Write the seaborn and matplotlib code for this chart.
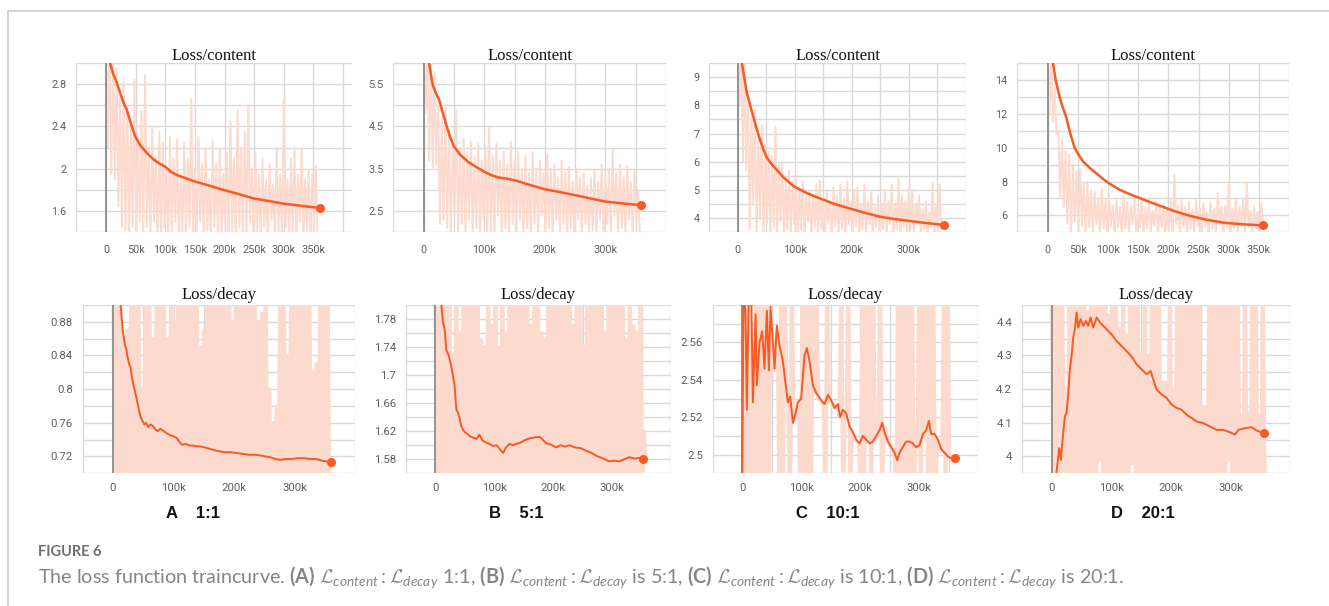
import numpy as np
import matplotlib
matplotlib.use("Agg")
import matplotlib.pyplot as plt
from matplotlib.lines import Line2D
import seaborn as sns

# ---- data (steps in thousands) ----
RAW_STEP = 3  # spacing of raw log points, k steps

# Loss/content, A 1:1
a_con_x = [4, 7, 12, 18.5, 25, 30, 35, 42, 49, 58, 69, 80, 90, 100, 110, 120, 135, 150, 175, 198, 225, 249, 275, 300, 330, 361]
a_con_y = [3.15, 3.0, 2.9, 2.81, 2.70, 2.62, 2.56, 2.43, 2.31, 2.22, 2.15, 2.09, 2.05, 2.02, 1.97, 1.94, 1.91, 1.88, 1.84, 1.80, 1.76, 1.72, 1.695, 1.67, 1.65, 1.63]
a_con_hi = [3.3, 3.2, 3.1, 2.95, 2.7, 2.82, 2.6, 2.45, 2.84, 2.3, 2.55, 2.88, 2.2, 2.4, 2.1, 2.35, 2.25, 2.0, 2.3, 2.1,
            2.28, 1.95, 2.25, 2.1, 2.66, 2.0, 2.3, 2.05, 2.2, 1.9, 2.27, 2.05, 2.2, 1.95, 2.15, 2.45, 2.1, 2.56, 2.2, 2.35,
            2.6, 2.0, 2.15, 1.95, 2.1, 1.9, 2.05, 1.85, 2.2, 1.95, 2.65, 1.9, 2.1, 2.2, 1.95, 2.2, 1.9, 2.0, 1.95, 2.03]
a_con_lo = [2.2, 1.95, 1.9, 1.65, 1.45, 1.42, 1.3, 1.45, 1.3, 1.5, 1.35, 1.45, 1.3, 1.5, 1.35, 1.3, 1.45, 1.3, 1.35, 1.5,
            1.3, 1.4, 1.3, 1.45, 1.3, 1.35, 1.5, 1.3, 1.42, 1.3, 1.45, 1.3, 1.35, 1.48, 1.3, 1.4, 1.3, 1.45, 1.3, 1.35,
            1.5, 1.3, 1.4, 1.3, 1.45, 1.3, 1.52, 1.3, 1.4, 1.3, 1.45, 1.3, 1.38, 1.3, 1.5, 1.3, 1.42, 1.3, 1.4, 1.3]

# Loss/content, B 5:1
b_con_x = [5, 9, 15, 20, 26, 31, 37, 43, 50, 60, 73, 85, 100, 112, 122, 140, 155, 175, 199, 225, 249, 275, 298, 330, 359]
b_con_y = [6.3, 6.0, 5.48, 5.3, 5.12, 4.85, 4.56, 4.28, 4.03, 3.84, 3.67, 3.56, 3.43, 3.35, 3.30, 3.26, 3.21, 3.12, 3.02, 2.95, 2.88, 2.80, 2.73, 2.68, 2.64]
b_con_hi = [6.5, 6.3, 6.2, 5.8, 5.1, 4.7, 4.95, 4.4, 4.1, 4.9, 4.0, 4.2, 3.9, 4.15, 3.8, 4.1, 3.7, 4.0, 4.5, 3.8,
            4.1, 3.7, 3.9, 3.6, 4.15, 3.7, 3.9, 3.5, 3.8, 3.4, 3.9, 3.5, 3.7, 3.4, 3.85, 3.5, 3.6, 3.3, 3.7, 3.4,
            3.55, 3.2, 3.5, 3.3, 3.4, 3.1, 3.3, 3.5, 3.2, 3.6, 3.3, 3.5, 3.95, 3.4, 3.6, 3.3, 3.55, 3.2, 3.45, 3.0]
b_con_lo = [4.8, 3.7, 3.5, 3.6, 2.2, 2.3, 2.1, 1.9, 2.4, 1.9, 2.2, 1.9, 2.3, 1.9, 2.1, 1.9, 2.3, 1.9, 2.0, 1.9,
            2.4, 1.9, 2.1, 1.9, 2.2, 1.9, 2.3, 1.9, 2.1, 1.9, 2.2, 1.9, 2.4, 1.9, 2.1, 1.9, 2.3, 1.9, 2.2, 1.9,
            2.1, 1.9, 2.3, 1.9, 2.2, 1.9, 2.05, 1.9, 2.3, 1.9, 2.2, 1.9, 2.4, 1.9, 2.1, 1.9, 2.3, 1.9, 2.2, 1.9]

# Loss/content, C 10:1
c_con_x = [4, 7, 12, 16, 22, 27, 33, 39, 45, 51, 60, 68, 80, 98, 120, 144, 170, 197, 225, 250, 275, 302, 330, 361]
c_con_y = [9.9, 9.5, 8.9, 8.43, 7.98, 7.61, 7.18, 6.78, 6.43, 6.14, 5.9, 5.72, 5.45, 5.13, 4.9, 4.70, 4.5, 4.34, 4.18, 4.05, 3.97, 3.90, 3.83, 3.76]
c_con_hi = [10.0, 10.0, 9.8, 8.0, 7.6, 7.8, 6.9, 7.3, 6.6, 6.4, 6.2, 7.25, 5.9, 6.0, 5.5, 5.7, 5.3, 5.5, 5.1, 5.3,
            4.9, 5.0, 4.8, 5.2, 5.35, 4.7, 5.0, 4.6, 5.1, 4.8, 5.2, 4.7, 5.3, 4.6, 5.0, 5.1, 4.5, 5.2, 4.6, 4.9,
            4.4, 4.8, 4.5, 5.0, 4.6, 5.2, 4.5, 5.4, 4.8, 4.6, 5.1, 5.0, 4.5, 4.8, 4.3, 4.6, 4.2, 5.25, 4.4, 5.2]
c_con_lo = [8.0, 6.0, 5.7, 3.6, 4.5, 3.3, 4.0, 3.3, 3.8, 3.3, 3.7, 3.3, 3.9, 3.3, 3.6, 3.3, 3.8, 3.3, 3.6, 3.3,
            3.9, 3.3, 3.7, 3.3, 3.6, 3.3, 3.8, 3.3, 3.7, 3.3, 3.6, 3.3, 3.8, 3.3, 3.7, 3.3, 3.6, 3.3, 3.8, 3.3,
            3.7, 3.3, 3.6, 3.3, 3.8, 3.3, 3.6, 3.3, 3.7, 3.3, 3.6, 3.3, 3.8, 3.3, 3.6, 3.3, 3.7, 3.3, 3.6, 3.3]

# Loss/content, D 20:1
d_con_x = [5, 9, 14, 20, 25, 31, 38, 45, 52, 59, 70, 81, 92, 103, 120, 142, 165, 186, 210, 236, 262, 291, 320, 356]
d_con_y = [15.8, 15.0, 13.9, 13.0, 12.4, 11.8, 10.8, 9.98, 9.55, 9.18, 8.8, 8.48, 8.15, 7.87, 7.5, 7.17, 6.85, 6.57, 6.25, 5.97, 5.75, 5.57, 5.48, 5.41]
d_con_hi = [16.0, 15.5, 13.5, 11.0, 10.5, 9.8, 9.6, 9.0, 8.6, 8.7, 7.9, 8.0, 7.5, 7.4, 7.0, 7.6, 6.9, 7.2, 6.6, 7.0,
            6.5, 7.1, 6.8, 6.6, 7.0, 6.4, 6.9, 6.5, 7.0, 6.3, 6.8, 6.6, 6.7, 6.4, 6.9, 8.4, 6.6, 7.0, 6.5, 6.8,
            6.3, 6.9, 6.4, 6.7, 6.2, 6.8, 6.4, 7.3, 6.5, 6.6, 7.9, 6.4, 7.0, 6.5, 7.0, 7.9, 6.3, 6.5, 6.2, 6.7]
d_con_lo = [12.0, 11.5, 10.8, 7.0, 6.5, 5.5, 4.8, 5.6, 4.8, 5.4, 4.8, 5.3, 4.8, 5.5, 4.8, 5.2, 4.8, 5.4, 4.8, 5.3,
            4.8, 5.2, 4.8, 5.5, 4.8, 5.3, 4.8, 5.2, 4.8, 5.4, 4.8, 5.3, 4.8, 5.2, 4.8, 5.5, 4.8, 5.3, 4.8, 5.2,
            4.8, 5.4, 4.8, 5.3, 4.8, 5.2, 4.8, 5.5, 4.8, 5.3, 4.8, 5.2, 4.8, 5.4, 4.8, 5.3, 4.8, 5.2, 4.8, 5.3]

# Loss/decay, A 1:1
a_dec_x = [12, 16, 20, 22, 24, 27, 29, 31, 34, 37, 40, 42, 45, 48, 52, 55, 58, 62, 66, 70, 74, 78, 82, 86, 90, 95, 100, 105, 110, 114,
           120, 126, 132, 138, 144, 150, 160, 170, 177, 185, 195, 205, 215, 225, 235, 245, 252, 260, 268, 276, 285, 295, 305, 315, 325, 335, 345, 352, 359]
a_dec_y = [0.905, 0.87, 0.851, 0.848, 0.838, 0.829, 0.826, 0.815, 0.804, 0.795, 0.785, 0.778, 0.768, 0.763, 0.758, 0.760, 0.755, 0.758, 0.756, 0.752,
           0.750, 0.753, 0.751, 0.749, 0.747, 0.745, 0.744, 0.742, 0.737, 0.734, 0.735, 0.733, 0.733, 0.732, 0.732, 0.731, 0.729, 0.727, 0.726, 0.725,
           0.725, 0.724, 0.723, 0.722, 0.722, 0.721, 0.720, 0.719, 0.717, 0.716, 0.717, 0.717, 0.718, 0.718, 0.717, 0.717, 0.715, 0.714, 0.714]
a_dec_hi = [0.95, 0.95, 0.95, 0.86, 0.87, 0.95, 0.95, 0.95, 0.80, 0.95, 0.95, 0.86, 0.95, 0.95, 0.95, 0.86, 0.95, 0.88, 0.95, 0.95,
            0.95, 0.95, 0.95, 0.95, 0.85, 0.87, 0.95, 0.95, 0.95, 0.95, 0.95, 0.95, 0.95, 0.88, 0.95, 0.95, 0.95, 0.95, 0.95, 0.95,
            0.88, 0.89, 0.95, 0.80, 0.76, 0.78, 0.95, 0.95, 0.84, 0.95, 0.95, 0.95, 0.95, 0.95, 0.95, 0.82, 0.83, 0.95, 0.95, 0.95]
a_dec_lo = [0.66, 0.67, 0.65, 0.66, 0.66, 0.67, 0.65, 0.66, 0.66, 0.67, 0.65, 0.66, 0.66, 0.67, 0.65, 0.66, 0.66, 0.67, 0.65, 0.66,
            0.66, 0.67, 0.65, 0.66, 0.66, 0.67, 0.65, 0.66, 0.66, 0.67, 0.65, 0.66, 0.66, 0.67, 0.65, 0.66, 0.66, 0.67, 0.65, 0.66,
            0.66, 0.67, 0.65, 0.66, 0.66, 0.67, 0.65, 0.66, 0.66, 0.67, 0.65, 0.66, 0.66, 0.67, 0.65, 0.66, 0.66, 0.67, 0.65, 0.66]

# Loss/decay, B 5:1
b_dec_x = [10, 13, 16, 19, 23, 27, 30, 33, 35, 36, 38, 41, 44, 47, 50, 55, 60, 64, 70, 75, 80, 86, 92, 98, 104, 110, 115, 120, 126, 132,
           138, 143, 151, 160, 168, 177, 182, 188, 196, 205, 212, 220, 228, 236, 246, 256, 265, 273, 282, 290, 295, 303, 312, 320, 329, 338, 345, 352]
b_dec_y = [1.805, 1.776, 1.765, 1.735, 1.728, 1.713, 1.700, 1.684, 1.660, 1.650, 1.648, 1.640, 1.628, 1.622, 1.619, 1.616, 1.612, 1.611, 1.609, 1.615,
           1.607, 1.604, 1.602, 1.599, 1.600, 1.594, 1.589, 1.597, 1.602, 1.600, 1.602, 1.603, 1.607, 1.610, 1.611, 1.612, 1.608, 1.603, 1.601, 1.597,
           1.600, 1.598, 1.600, 1.597, 1.596, 1.592, 1.589, 1.585, 1.582, 1.579, 1.577, 1.578, 1.577, 1.580, 1.583, 1.581, 1.582, 1.580]
b_dec_hi = [1.85, 1.85, 1.85, 1.85, 1.85, 1.73, 1.85, 1.76, 1.85, 1.85, 1.85, 1.85, 1.85, 1.75, 1.74, 1.85, 1.77, 1.85, 1.74, 1.85,
            1.76, 1.85, 1.85, 1.85, 1.85, 1.85, 1.85, 1.77, 1.85, 1.85, 1.76, 1.75, 1.85, 1.85, 1.85, 1.85, 1.85, 1.85, 1.85, 1.77,
            1.85, 1.85, 1.74, 1.85, 1.85, 1.85, 1.85, 1.85, 1.76, 1.85, 1.85, 1.85, 1.85, 1.85, 1.75, 1.85, 1.77, 1.76, 1.85, 1.62]
b_dec_lo = [1.52, 1.53, 1.52, 1.51, 1.52, 1.53, 1.52, 1.51, 1.52, 1.53, 1.52, 1.51, 1.52, 1.53, 1.52, 1.51, 1.52, 1.53, 1.52, 1.51,
            1.52, 1.53, 1.52, 1.51, 1.52, 1.53, 1.52, 1.51, 1.52, 1.53, 1.52, 1.51, 1.52, 1.53, 1.52, 1.51, 1.52, 1.53, 1.52, 1.51,
            1.52, 1.53, 1.52, 1.51, 1.52, 1.53, 1.52, 1.51, 1.52, 1.53, 1.52, 1.51, 1.52, 1.53, 1.52, 1.51, 1.52, 1.53, 1.52, 1.58]

# Loss/decay, C 10:1
c_dec_x = [0, 2.3, 5.6, 7.9, 11.3, 15.2, 18.1, 22.6, 24.8, 29.4, 33.9, 37.8, 41.8, 45.2, 48, 52, 54.8, 58.7, 63.3, 68.9,
           74.6, 77.4, 81.4, 85.9, 90.4, 94.4, 100, 105.6, 109.6, 114.1, 119.8, 125.4, 133.9, 139.5, 145.2, 150.8, 156.5, 162.1, 166.1, 170.6,
           176.3, 181.9, 187.6, 193.2, 198.9, 204.5, 210.2, 215.8, 221.5, 227.1, 232.8, 237.3, 241.2, 246.9, 252.5, 258.2, 262.7, 266.7, 272.3, 277.9,
           283.6, 289.2, 294.9, 300.6, 306.2, 311.9, 316.4, 320.3, 326, 331.6, 337.3, 342.9, 348.6, 354.2, 361.5]
c_dec_y = [2.48, 2.59, 2.575, 2.524, 2.59, 2.59, 2.528, 2.575, 2.537, 2.560, 2.566, 2.546, 2.577, 2.545, 2.579, 2.56, 2.546, 2.569, 2.558, 2.55,
           2.535, 2.528, 2.531, 2.517, 2.522, 2.528, 2.530, 2.553, 2.557, 2.550, 2.537, 2.533, 2.529, 2.527, 2.532, 2.529, 2.525, 2.527, 2.520, 2.524,
           2.522, 2.515, 2.512, 2.508, 2.506, 2.510, 2.508, 2.506, 2.507, 2.510, 2.513, 2.517, 2.512, 2.507, 2.504, 2.501, 2.497, 2.501, 2.504, 2.507,
           2.507, 2.506, 2.504, 2.505, 2.511, 2.513, 2.518, 2.511, 2.511, 2.508, 2.503, 2.501, 2.499, 2.498, 2.498]
c_dec_hi = [2.60, 2.60, 2.60, 2.53, 2.60, 2.60, 2.60, 2.60, 2.57, 2.545, 2.565, 2.60, 2.60, 2.527, 2.60, 2.521, 2.528, 2.60, 2.60, 2.60,
            2.60, 2.60, 2.529, 2.527, 2.60, 2.528, 2.525, 2.526, 2.60, 2.521, 2.60, 2.511, 2.508, 2.506, 2.60, 2.60, 2.60, 2.60, 2.509, 2.60,
            2.515, 2.507, 2.504, 2.501, 2.60, 2.60, 2.60, 2.60, 2.60, 2.504, 2.60, 2.60, 2.60, 2.60, 2.60, 2.508, 2.502, 2.60, 2.60, 2.497]
c_dec_lo = [2.47, 2.47, 2.47, 2.47, 2.47, 2.47, 2.47, 2.47, 2.56, 2.56, 2.47, 2.47, 2.535, 2.47, 2.518, 2.525, 2.47, 2.47, 2.47, 2.47,
            2.533, 2.53, 2.528, 2.47, 2.53, 2.527, 2.525, 2.52, 2.47, 2.521, 2.47, 2.51, 2.507, 2.47, 2.47, 2.507, 2.47, 2.508, 2.511, 2.47,
            2.514, 2.506, 2.503, 2.47, 2.47, 2.47, 2.47, 2.47, 2.47, 2.504, 2.47, 2.51, 2.47, 2.47, 2.47, 2.505, 2.502, 2.47, 2.498, 2.497]

# Loss/decay, D 20:1
d_dec_x = [6, 8.4, 12.8, 15.6, 19.5, 22.3, 25.1, 27.9, 30.7, 33.5, 36.3, 39.1, 41.9, 44.7, 48.6, 53, 57.5, 61.4, 65.3, 69.8, 75.4,
           81, 86.5, 92.1, 100.5, 108.9, 117.3, 125.6, 134, 142.4, 150.8, 159.2, 165.9, 170.3, 175.9, 184.3, 192.7, 201.1, 209.4, 217.8, 226.2,
           234.5, 242.9, 254.1, 265.3, 276.4, 287.6, 298.8, 307.2, 312.8, 324, 335.1, 343.5, 355.8]
d_dec_y = [3.93, 3.955, 4.025, 3.99, 4.07, 4.119, 4.13, 4.184, 4.259, 4.299, 4.353, 4.378, 4.428, 4.383, 4.408, 4.388, 4.403, 4.388, 4.413, 4.383, 4.413,
           4.398, 4.388, 4.378, 4.363, 4.343, 4.328, 4.313, 4.297, 4.274, 4.259, 4.244, 4.254, 4.229, 4.199, 4.184, 4.174, 4.154, 4.144, 4.139, 4.124,
           4.114, 4.104, 4.099, 4.089, 4.079, 4.079, 4.072, 4.065, 4.079, 4.084, 4.087, 4.077, 4.069]
d_dec_hi = [4.5, 4.5, 4.5, 4.5, 4.2, 4.5, 4.5, 4.44, 4.5, 4.5, 4.43, 4.5, 4.5, 4.44, 4.5, 4.5, 4.42, 4.5, 4.5, 4.38,
            4.5, 4.36, 4.5, 4.5, 4.5, 4.30, 4.5, 4.30, 4.5, 4.5, 4.5, 4.22, 4.22, 4.5, 4.2, 4.5, 4.5, 4.5, 4.5, 4.5,
            4.5, 4.5, 4.15, 4.14, 4.5, 4.5, 4.5, 4.5, 4.5, 4.5, 4.5, 4.5, 4.5, 4.12, 4.5, 4.13, 4.5, 4.5, 4.12, 4.5]
d_dec_lo = [3.9, 3.9, 3.9, 3.9, 3.9, 3.9, 3.9, 3.9, 3.9, 3.9, 3.9, 3.9, 3.9, 3.99, 3.9, 3.9, 3.9, 3.9, 3.9, 3.9,
            3.9, 3.9, 3.98, 3.9, 3.9, 3.9, 3.9, 3.9, 3.9, 3.9, 3.9, 3.9, 3.9, 3.9, 3.9, 3.9, 3.9, 3.9, 3.9, 3.9,
            3.9, 3.9, 3.9, 3.9, 3.9, 3.9, 3.9, 3.9, 3.9, 3.99, 3.9, 3.9, 3.9, 3.9, 3.9, 3.9, 3.9, 3.9, 3.9, 3.9]

# tick labels
xlab_fine = [0, 50, 100, 150, 200, 250, 300, 350]
xlab_coarse = [0, 100, 200, 300]
a_con_ylab = [1.6, 2.0, 2.4, 2.8]
b_con_ylab = [2.5, 3.5, 4.5, 5.5]
c_con_ylab = [4, 5, 6, 7, 8, 9]
d_con_ylab = [6, 8, 10, 12, 14]
a_dec_ylab = [0.72, 0.76, 0.80, 0.84, 0.88]
b_dec_ylab = [1.58, 1.62, 1.66, 1.70, 1.74, 1.78]
c_dec_ylab = [2.50, 2.52, 2.54, 2.56]
d_dec_ylab = [4.0, 4.1, 4.2, 4.3, 4.4]

sub_labels = ["A    1:1", "B    5:1", "C    10:1", "D    20:1"]

# ---- style ----
sns.set_style("white")
plt.rcParams["font.family"] = ["Roboto", "DejaVu Sans"]
plt.rcParams["mathtext.fontset"] = "custom"
plt.rcParams["mathtext.rm"] = "Lato"
plt.rcParams["mathtext.it"] = "Lato:italic"
plt.rcParams["mathtext.bf"] = "Lato:bold"
plt.rcParams["mathtext.cal"] = "cmsy10"

LINE = "#f75a25"
RAW = "#fcdacd"
GRID = "#d9d9d9"
W, H = 1329, 606

fig = plt.figure(figsize=(W / 100, H / 100), dpi=100)


def px_rect(left, top, width, height):
    return [left / W, 1 - (top + height) / H, width / W, height / H]


def raw_series(hi, lo):
    y = np.column_stack([hi, lo]).ravel()
    x = np.arange(len(y)) * RAW_STEP
    return x, y


panels = [
    # rect, title, x, y, hi, lo, ylim, grid step, ylabels, xlabels, xmax, top row?
    (px_rect(76.3, 63, 275.7, 169.3), "Loss/content", a_con_x, a_con_y, a_con_hi, a_con_lo, (1.4, 3.0), 0.2, a_con_ylab, xlab_fine, 415, True),
    (px_rect(393.3, 63, 272.7, 169.3), "Loss/content", b_con_x, b_con_y, b_con_hi, b_con_lo, (2.0, 6.0), 0.5, b_con_ylab, xlab_coarse, 400, True),
    (px_rect(709.3, 63, 256.5, 169.3), "Loss/content", c_con_x, c_con_y, c_con_hi, c_con_lo, (3.5, 9.5), 0.5, c_con_ylab, xlab_coarse, 400, True),
    (px_rect(1017.3, 63, 271.8, 169.3), "Loss/content", d_con_x, d_con_y, d_con_hi, d_con_lo, (5.0, 15.0), 1.0, d_con_ylab, xlab_fine, 400, True),
    (px_rect(82.7, 305, 272.7, 168.3), "Loss/decay", a_dec_x, a_dec_y, a_dec_hi, a_dec_lo, (0.70, 0.90), 0.02, a_dec_ylab, xlab_coarse, 400, False),
    (px_rect(405.7, 305, 265.5, 168.3), "Loss/decay", b_dec_x, b_dec_y, b_dec_hi, b_dec_lo, (1.56, 1.80), 0.02, b_dec_ylab, xlab_coarse, 400, False),
    (px_rect(712.7, 305, 265.5, 168.3), "Loss/decay", c_dec_x, c_dec_y, c_dec_hi, c_dec_lo, (2.49, 2.58), 0.01, c_dec_ylab, xlab_coarse, 400, False),
    (px_rect(1021.7, 305, 268.7, 168.3), "Loss/decay", d_dec_x, d_dec_y, d_dec_hi, d_dec_lo, (3.95, 4.45), 0.05, d_dec_ylab, xlab_coarse, 400, False),
]

for rect, title, sx, sy, hi, lo, ylim, gstep, ylab, xlab, xmax, top in panels:
    ax = fig.add_axes(rect)
    rx, ry = raw_series(hi, lo)
    sns.lineplot(x=rx, y=ry, ax=ax, color=RAW, linewidth=1.4 if top else 2.8,
                 estimator=None, sort=False, zorder=2)
    ax.axvline(0, color="#8c8c8c", lw=1.3, zorder=3)
    sns.lineplot(x=sx, y=sy, ax=ax, color=LINE, linewidth=1.8 if top else 1.4,
                 estimator=None, sort=False, zorder=4)
    sns.scatterplot(x=[sx[-1]], y=[sy[-1]], ax=ax, color=LINE, s=42,
                    linewidth=0, zorder=5, clip_on=False)

    ax.set_xlim(-50, xmax)
    ax.set_ylim(*ylim)
    xt = np.arange(-50, xmax + 1, 50)
    ax.set_xticks(xt)
    ax.set_xticklabels([("0" if v == 0 else f"{v}k") if v in xlab else "" for v in xt])
    yt = np.arange(ylim[0], ylim[1] + gstep / 2, gstep)
    ax.set_yticks(yt)
    ax.set_yticklabels([f"{v:g}" if any(abs(v - l) < gstep / 4 for l in ylab) else "" for v in yt])

    ax.grid(True, color=GRID, lw=1.0)
    ax.set_axisbelow(True)
    for s in ax.spines.values():
        s.set_visible(False)
    ax.tick_params(axis="both", length=0, labelsize=7.8 if top else 8.2, labelcolor="#5f5f5f")
    ax.tick_params(axis="y", pad=7)
    ax.tick_params(axis="x", pad=9 if top else 7)
    ax.set_xlabel("")
    ax.set_ylabel("")
    ax.set_title(title, family="Liberation Serif", fontsize=12, color="#111111",
                 pad=2 if top else 4)

# panel sub labels
for lab, xpx in zip(sub_labels, [166, 489, 796, 1111]):
    fig.text(xpx / W, 1 - 514 / H, lab, family="Liberation Sans", fontweight="bold",
             fontsize=12, color="#111111", ha="left", va="center")

# frame lines of the figure box
fig.add_artist(Line2D([7.5 / W, 1], [1 - 11 / H, 1 - 11 / H], color="#cccccc", lw=1.2))
fig.add_artist(Line2D([7.5 / W, 7.5 / W], [0, 1 - 11 / H], color="#cccccc", lw=1.2))

# caption
fig.text(38 / W, 1 - 552 / H, "FIGURE 6", family="Lato", fontweight="bold",
         fontsize=10.5, color="#707070", va="center")
cap = (r"The loss function traincurve. $\mathbf{(A)}$ $\mathcal{L}_{content}:\mathcal{L}_{decay}$ 1:1, "
       r"$\mathbf{(B)}$ $\mathcal{L}_{content}:\mathcal{L}_{decay}$ is 5:1, "
       r"$\mathbf{(C)}$ $\mathcal{L}_{content}:\mathcal{L}_{decay}$ is 10:1, "
       r"$\mathbf{(D)}$ $\mathcal{L}_{content}:\mathcal{L}_{decay}$ is 20:1.")
fig.text(38 / W, 1 - 577 / H, cap, family="Lato", fontsize=14.2, color="#858585", va="center")

fig.savefig("out.png", dpi=100)
